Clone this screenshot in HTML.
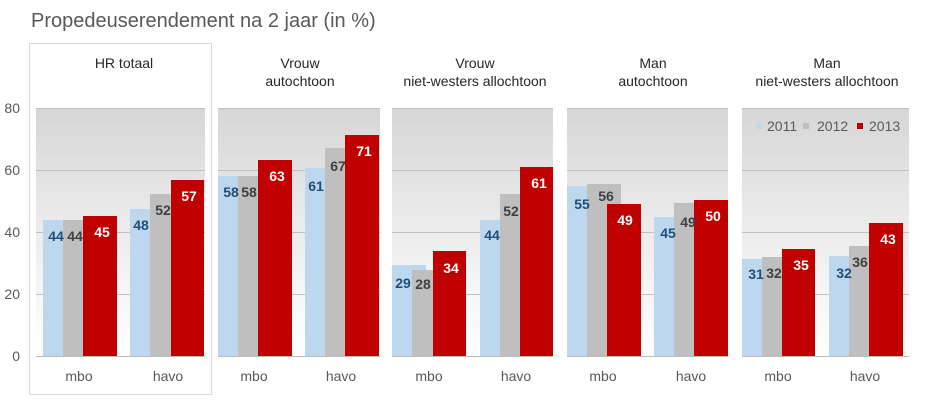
<!DOCTYPE html>
<html><head><meta charset="utf-8"><style>
body{margin:0;background:#fff;}
#c{position:relative;width:931px;height:401px;overflow:hidden;background:#fff;font-family:"Liberation Sans",Arial,sans-serif;}
.t{position:absolute;white-space:nowrap;}
.pa{position:absolute;top:108px;height:248px;background:linear-gradient(to bottom,#d6d6d6 0%,#e6e6e6 35%,#f6f6f6 75%,#ffffff 100%);}
.g{position:absolute;height:1px;background:#bfbfbf;}
.b{position:absolute;width:34px;}
.b1{background:#bdd7ee;}
.b2{background:#bfbfbf;}
.b3{background:#c00000;}
.l{position:absolute;width:30px;height:16px;line-height:16px;text-align:center;font-weight:bold;font-size:14px;}
.lb{color:#1f4e79;}
.lg{color:#404040;}
.lr{color:#ffffff;}
.pt{position:absolute;width:180px;text-align:center;font-size:14px;color:#262626;line-height:18px;}
.ax{position:absolute;width:30px;left:-10px;text-align:right;font-size:14px;color:#595959;height:16px;line-height:16px;}
.cat{position:absolute;width:60px;text-align:center;font-size:14px;color:#595959;height:18px;line-height:18px;top:367px;}
.sq{position:absolute;width:6px;height:6px;top:123px;}
.lg2{position:absolute;font-size:14px;color:#595959;top:118px;line-height:16px;}
</style></head><body><div id="c">
<div class="t" style="left:31px;top:8px;font-size:20px;color:#595959;line-height:26px;">Propedeuserendement na 2 jaar (in %)</div>

<!-- panel 1 border -->
<div style="position:absolute;left:29px;top:43px;width:181px;height:350px;border:1px solid #d9d9d9;"></div>

<!-- plot areas -->
<div class="pa" style="left:36px;width:169px;"></div>
<div class="pa" style="left:218px;width:162px;"></div>
<div class="pa" style="left:392px;width:161px;"></div>
<div class="pa" style="left:567px;width:161px;"></div>
<div class="pa" style="left:742px;width:167px;"></div>

<!-- gridlines -->
<div class="g" style="left:36px;width:169px;top:108px"></div><div class="g" style="left:36px;width:169px;top:170px"></div><div class="g" style="left:36px;width:169px;top:232px"></div><div class="g" style="left:36px;width:169px;top:294px"></div><div class="g" style="left:36px;width:169px;top:356px"></div>
<div class="g" style="left:218px;width:162px;top:108px"></div><div class="g" style="left:218px;width:162px;top:170px"></div><div class="g" style="left:218px;width:162px;top:232px"></div><div class="g" style="left:218px;width:162px;top:294px"></div><div class="g" style="left:218px;width:162px;top:356px"></div>
<div class="g" style="left:392px;width:161px;top:108px"></div><div class="g" style="left:392px;width:161px;top:170px"></div><div class="g" style="left:392px;width:161px;top:232px"></div><div class="g" style="left:392px;width:161px;top:294px"></div><div class="g" style="left:392px;width:161px;top:356px"></div>
<div class="g" style="left:567px;width:161px;top:108px"></div><div class="g" style="left:567px;width:161px;top:170px"></div><div class="g" style="left:567px;width:161px;top:232px"></div><div class="g" style="left:567px;width:161px;top:294px"></div><div class="g" style="left:567px;width:161px;top:356px"></div>
<div class="g" style="left:742px;width:167px;top:108px"></div><div class="g" style="left:742px;width:167px;top:170px"></div><div class="g" style="left:742px;width:167px;top:232px"></div><div class="g" style="left:742px;width:167px;top:294px"></div><div class="g" style="left:742px;width:167px;top:356px"></div>

<!-- bars P1 -->
<div class="b b1" style="left:43px;top:220px;height:136px"></div>
<div class="b b2" style="left:63px;top:220px;height:136px"></div>
<div class="b b3" style="left:83px;top:216px;height:140px"></div>
<div class="b b1" style="left:130px;top:209px;height:147px"></div>
<div class="b b2" style="left:150px;top:194px;height:162px"></div>
<div class="b b3" style="left:171px;top:180px;height:176px;width:33px"></div>
<!-- P2 -->
<div class="b b1" style="left:218px;top:176px;height:180px"></div>
<div class="b b2" style="left:238px;top:176px;height:180px"></div>
<div class="b b3" style="left:258px;top:160px;height:196px"></div>
<div class="b b1" style="left:305px;top:168px;height:188px"></div>
<div class="b b2" style="left:325px;top:148px;height:208px"></div>
<div class="b b3" style="left:345px;top:135px;height:221px"></div>
<!-- P3 -->
<div class="b b1" style="left:392px;top:265px;height:91px"></div>
<div class="b b2" style="left:412px;top:270px;height:86px"></div>
<div class="b b3" style="left:433px;top:251px;height:105px;width:33px"></div>
<div class="b b1" style="left:480px;top:220px;height:136px"></div>
<div class="b b2" style="left:500px;top:194px;height:162px"></div>
<div class="b b3" style="left:520px;top:167px;height:189px;width:33px"></div>
<!-- P4 -->
<div class="b b1" style="left:567px;top:186px;height:170px"></div>
<div class="b b2" style="left:587px;top:184px;height:172px"></div>
<div class="b b3" style="left:607px;top:204px;height:152px"></div>
<div class="b b1" style="left:654px;top:217px;height:139px"></div>
<div class="b b2" style="left:674px;top:203px;height:153px"></div>
<div class="b b3" style="left:694px;top:200px;height:156px"></div>
<!-- P5 -->
<div class="b b1" style="left:742px;top:259px;height:97px"></div>
<div class="b b2" style="left:762px;top:257px;height:99px"></div>
<div class="b b3" style="left:782px;top:249px;height:107px;width:33px"></div>
<div class="b b1" style="left:829px;top:256px;height:100px"></div>
<div class="b b2" style="left:849px;top:246px;height:110px"></div>
<div class="b b3" style="left:869px;top:223px;height:133px"></div>

<!-- labels -->
<div class="l lb" style="left:41px;top:228px">44</div>
<div class="l lg" style="left:60px;top:228px">44</div>
<div class="l lr" style="left:87px;top:224px">45</div>
<div class="l lb" style="left:126px;top:217px">48</div>
<div class="l lg" style="left:148px;top:202px">52</div>
<div class="l lr" style="left:174px;top:188px">57</div>

<div class="l lb" style="left:216px;top:184px">58</div>
<div class="l lg" style="left:234px;top:184px">58</div>
<div class="l lr" style="left:262px;top:168px">63</div>
<div class="l lb" style="left:301px;top:178px">61</div>
<div class="l lg" style="left:323px;top:158px">67</div>
<div class="l lr" style="left:349px;top:143px">71</div>

<div class="l lb" style="left:388px;top:275px">29</div>
<div class="l lg" style="left:408px;top:276px">28</div>
<div class="l lr" style="left:436px;top:260px">34</div>
<div class="l lb" style="left:477px;top:227px">44</div>
<div class="l lg" style="left:496px;top:203px">52</div>
<div class="l lr" style="left:524px;top:175px">61</div>

<div class="l lb" style="left:567px;top:196px">55</div>
<div class="l lg" style="left:591px;top:188px">56</div>
<div class="l lr" style="left:610px;top:212px">49</div>
<div class="l lb" style="left:653px;top:225px">45</div>
<div class="l lg" style="left:673px;top:214px">49</div>
<div class="l lr" style="left:698px;top:208px">50</div>

<div class="l lb" style="left:741px;top:266px">31</div>
<div class="l lg" style="left:759px;top:265px">32</div>
<div class="l lr" style="left:786px;top:257px">35</div>
<div class="l lb" style="left:829px;top:265px">32</div>
<div class="l lg" style="left:845px;top:254px">36</div>
<div class="l lr" style="left:873px;top:231px">43</div>

<!-- panel titles -->
<div class="pt" style="left:34px;top:54px">HR totaal</div>
<div class="pt" style="left:210px;top:54px">Vrouw<br>autochtoon</div>
<div class="pt" style="left:385px;top:54px">Vrouw<br>niet-westers allochtoon</div>
<div class="pt" style="left:563px;top:54px">Man<br>autochtoon</div>
<div class="pt" style="left:737px;top:54px">Man<br>niet-westers allochtoon</div>

<!-- y axis -->
<div class="ax" style="top:100px">80</div>
<div class="ax" style="top:162px">60</div>
<div class="ax" style="top:224px">40</div>
<div class="ax" style="top:286px">20</div>
<div class="ax" style="top:348px">0</div>

<!-- categories -->
<div class="cat" style="left:49px">mbo</div>
<div class="cat" style="left:138px">havo</div>
<div class="cat" style="left:224px">mbo</div>
<div class="cat" style="left:311px">havo</div>
<div class="cat" style="left:399px">mbo</div>
<div class="cat" style="left:486px">havo</div>
<div class="cat" style="left:573px">mbo</div>
<div class="cat" style="left:661px">havo</div>
<div class="cat" style="left:748px">mbo</div>
<div class="cat" style="left:835px">havo</div>

<!-- legend -->
<div class="sq" style="left:756px;background:#bdd7ee"></div>
<div class="lg2" style="left:767px">2011</div>
<div class="sq" style="left:803px;background:#bfbfbf"></div>
<div class="lg2" style="left:817px">2012</div>
<div class="sq" style="left:857px;background:#c00000"></div>
<div class="lg2" style="left:869px">2013</div>
</div></body></html>
